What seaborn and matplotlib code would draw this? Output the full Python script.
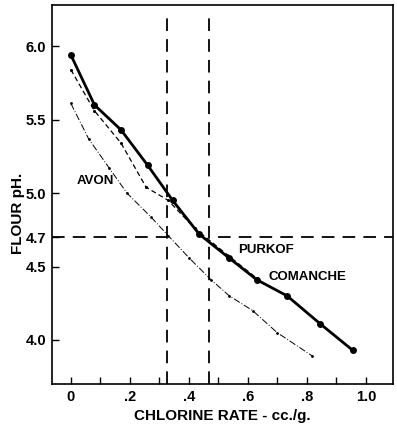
import numpy as np
import pandas as pd
import seaborn as sns
import matplotlib.pyplot as plt

# chlorine rate (cc./g) vs flour pH
comanche_x = [0.0, 0.08, 0.17, 0.26, 0.345, 0.435, 0.535, 0.63, 0.733, 0.845, 0.955]
comanche_y = [5.94, 5.60, 5.43, 5.19, 4.95, 4.72, 4.56, 4.41, 4.30, 4.11, 3.93]

purkof_x = [0.0, 0.08, 0.17, 0.255, 0.33, 0.42, 0.53, 0.63]
purkof_y = [5.84, 5.56, 5.34, 5.04, 4.95, 4.76, 4.58, 4.42]

avon_x = [0.0, 0.06, 0.13, 0.19, 0.27, 0.33, 0.40, 0.475, 0.537, 0.616, 0.699, 0.819]
avon_y = [5.61, 5.37, 5.17, 5.00, 4.84, 4.71, 4.56, 4.41, 4.30, 4.20, 4.05, 3.89]

target_ph = 4.7
rate_avon = 0.325
rate_comanche = 0.468

xticks = [0, 0.2, 0.4, 0.6, 0.8, 1.0]
xticklabels = ['0', '.2', '.4', '.6', '.8', '1.0']
yticks = [4.0, 4.5, 4.7, 5.0, 5.5, 6.0]
yticklabels = ['4.0', '4.5', '4.7', '5.0', '5.5', '6.0']

sns.set_style('ticks', {'text.color': 'black', 'axes.labelcolor': 'black',
                        'xtick.color': 'black', 'ytick.color': 'black',
                        'axes.edgecolor': 'black'})
plt.rcParams['font.family'] = ['Liberation Sans', 'DejaVu Sans']
plt.rcParams['font.weight'] = 'bold'

fig = plt.figure(figsize=(3.97, 4.25), dpi=100)
ax = fig.add_axes([0.131, 0.0965, 0.859, 0.8915])

comanche = pd.DataFrame({'rate': comanche_x, 'ph': comanche_y})
purkof = pd.DataFrame({'rate': purkof_x, 'ph': purkof_y})
avon = pd.DataFrame({'rate': avon_x, 'ph': avon_y})

sns.lineplot(data=comanche, x='rate', y='ph', ax=ax, color='black', lw=2.0,
             marker='o', markersize=5, markeredgewidth=0, sort=False)
sns.lineplot(data=purkof, x='rate', y='ph', ax=ax, color='black', lw=0.9,
             linestyle=(0, (4, 2.5)), marker='o', markersize=2.2,
             markeredgewidth=0, sort=False)
sns.lineplot(data=avon, x='rate', y='ph', ax=ax, color='black', lw=0.7,
             linestyle=(0, (7, 2, 1, 2)), marker='o', markersize=2.0,
             markeredgewidth=0, sort=False)

# guide lines for pH 4.7
dash = (0, (7, 4.5))
ax.axvline(rate_avon, ymax=0.985, color='black', lw=1.3, linestyle=dash)
ax.axvline(rate_comanche, ymax=0.985, color='black', lw=1.3, linestyle=dash)
ax.plot([-0.065, rate_avon], [target_ph, target_ph], color='black', lw=1.3, linestyle=dash)
ax.plot([0.498, 1.1], [target_ph, target_ph], color='black', lw=1.3, linestyle=dash)

ax.text(0.02, 5.06, 'AVON', fontsize=9.5, fontweight='bold')
ax.text(0.567, 4.59, 'PURKOF', fontsize=9.5, fontweight='bold')
ax.text(0.67, 4.41, 'COMANCHE', fontsize=9.5, fontweight='bold')

ax.set_xlim(-0.064, 1.092)
ax.set_ylim(3.70, 6.28)
ax.set_xticks(np.arange(0, 1.05, 0.1), minor=True)
ax.set_xticks(xticks)
ax.set_xticklabels(xticklabels)
ax.set_yticks(yticks)
ax.set_yticklabels(yticklabels)
ax.tick_params(direction='in', length=5, width=1, labelsize=10.5, pad=4)
ax.tick_params(which='minor', direction='in', length=5, width=1)
for s in ax.spines.values():
    s.set_linewidth(1.2)
    s.set_color('black')

ax.set_xlabel('CHLORINE RATE - cc./g.', fontsize=11, fontweight='bold', labelpad=4)
ax.set_ylabel('FLOUR pH.', fontsize=11, fontweight='bold')
ax.yaxis.set_label_coords(-0.08, 0.45)

fig.savefig('out.png', dpi=100)
